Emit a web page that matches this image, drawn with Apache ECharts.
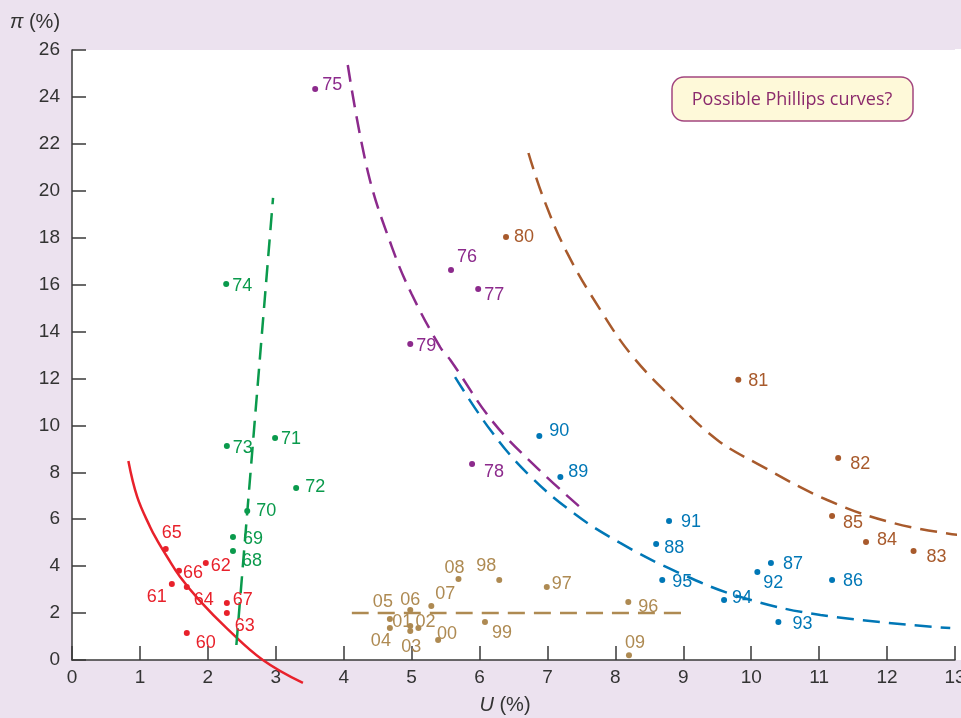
<!DOCTYPE html>
<html>
<head>
<meta charset="utf-8">
<script src="https://cdn.jsdelivr.net/npm/echarts@6/dist/echarts.min.js"></script>
<style>
html,body{margin:0;padding:0;background:#ece2ef;}
#chart{width:961px;height:718px;}
</style>
</head>
<body>
<div id="chart"></div>
<script>
// ---- data ----
const xTicks = [0,1,2,3,4,5,6,7,8,9,10,11,12,13];
const yTicks = [0,2,4,6,8,10,12,14,16,18,20,22,24,26];

const redYears = ['60','61','62','63','64','65','66','67'];
const redU     = [1.69,1.47,1.97,2.28,1.69,1.38,1.575,2.28];
const redPi    = [1.15,3.24,4.13,2.0,3.11,4.73,3.8,2.43];

const greenYears = ['68','69','70','71','72','73','74'];
const greenU     = [2.37,2.37,2.58,2.99,3.30,2.28,2.27];
const greenPi    = [4.65,5.24,6.35,9.46,7.33,9.12,16.03];

const purpleYears = ['75','76','77','78','79'];
const purpleU     = [3.58,5.58,5.98,5.89,4.98];
const purplePi    = [24.34,16.62,15.81,8.35,13.47];

const brownYears = ['80','81','82','83','84','85'];
const brownU     = [6.39,9.81,11.28,12.39,11.69,11.19];
const brownPi    = [18.03,11.94,8.61,4.65,5.03,6.14];

const blueYears = ['86','87','88','89','90','91','92','93','94','95'];
const blueU     = [11.19,10.29,8.60,7.19,6.88,8.79,10.09,10.40,9.60,8.69];
const bluePi    = [3.41,4.13,4.94,7.8,9.55,5.92,3.75,1.62,2.56,3.41];

const tanYears = ['96','97','98','99','00','01','02','03','04','05','06','07','08','09'];
const tanU     = [8.19,6.99,6.29,6.08,5.39,4.98,5.10,4.98,4.68,4.68,4.98,5.29,5.69,8.2];
const tanPi    = [2.47,3.11,3.41,1.62,0.85,1.45,1.36,1.24,1.36,1.75,2.13,2.3,3.45,0.2];

// curves
const redCurveU  = [0.83,0.96,1.15,1.25,1.40,1.59,1.89,2.28,2.81,3.40];
const redCurvePi = [8.48,6.95,5.67,5.12,4.4,3.55,2.5,1.35,0,-0.98];
const greenCurveU  = [2.42,2.96];
const greenCurvePi = [0.64,19.7];
const purpleCurveU  = [4.06,4.36,4.71,5.0,5.42,5.57,6.2,6.85,7.53];
const purpleCurvePi = [25.36,20.76,17.6,15.6,13.34,12.79,10.14,8.18,6.39];
const blueCurveU  = [5.64,6.16,6.70,7.38,8.07,8.91,9.84,11.02,12.93];
const blueCurvePi = [12.06,9.8,7.97,6.27,4.99,3.75,2.69,1.92,1.36];
const brownCurveU  = [6.72,6.94,7.29,7.78,8.26,8.91,9.50,10.1,11.12,12.09,13.04];
const brownCurvePi = [21.61,19.69,17.35,14.92,12.92,10.95,9.38,8.35,6.82,5.84,5.33];
const tanCurveU  = [4.12,9.03];
const tanCurvePi = [2.0,2.0];

// ---- label placement (pixels, relative to dot) ----
const labelOffsets = {
  '60':[19,10],'61':[-15,13],'62':[15,3],'63':[18,13],'64':[17,13],'65':[6,-16],'66':[14,2],'67':[16,-3],
  '68':[19,10],'69':[20,2],'70':[19,0],'71':[16,1],'72':[19,-1],'73':[16,2],'74':[16,2],
  '75':[17,-4],'76':[16,-13],'77':[16,6],'78':[22,8],'79':[16,2],
  '80':[18,0],'81':[20,1],'82':[22,6],'83':[23,6],'84':[21,-2],'85':[21,7],
  '86':[21,1],'87':[22,1],'88':[18,4],'89':[18,-5],'90':[20,-5],'91':[22,1],'92':[16,11],'93':[24,2],'94':[18,-2],'95':[20,2],
  '96':[20,5],'97':[15,-3],'98':[-13,-14],'99':[17,11],'00':[9,-6],'01':[-8,-4],'02':[7,-6],'03':[1,16],'04':[-9,13],
  '05':[-7,-17],'06':[0,-10],'07':[14,-12],'08':[-4,-11],'09':[6,-12]
};

const FONT = "'Liberation Sans', Arial, sans-serif";
const C = {
  red:'#e8212b', green:'#0a9a4c', purple:'#8c2a8c', brown:'#a85a2c', blue:'#0077b6', tan:'#ae8a52'
};

function pts(years, us, pis){
  return years.map((y,i)=>({
    value:[us[i], pis[i], y],
    label:{offset: labelOffsets[y] || [16,0]}
  }));
}
function curve(us, pis){ return us.map((u,i)=>[u, pis[i]]); }

function scatter(name, color, data){
  return {
    name, type:'scatter', data, symbolSize:6, z:5,
    itemStyle:{color, opacity:1},
    label:{show:true, position:'inside', formatter:p=>p.value[2],
      color, opacity:1, fontSize:18, fontFamily:FONT, align:'center', verticalAlign:'middle'},
    emphasis:{disabled:true}
  };
}
function line(name, color, data, dashed){
  return {
    name, type:'line', data, showSymbol:false, smooth:0.4, clip:false, z:3,
    lineStyle:{color, width:2.5, type: dashed ? [17,9] : 'solid'},
    silent:true
  };
}

const chart = echarts.init(document.getElementById('chart'), null, {renderer:'canvas'});
chart.setOption({
  animation:false,
  backgroundColor:'#ece2ef',
  textStyle:{fontFamily:FONT},
  grid:{left:72, right:6, top:50, bottom:58, show:true, backgroundColor:'#ffffff', borderWidth:0,
        containLabel:false, outerBoundsMode:'none'},
  graphic:[
    {type:'rect', z:-1, shape:{x:955, y:49, width:6, height:611}, style:{fill:'#ffffff'}},
    {type:'rect', shape:{x:672, y:77, width:241, height:44, r:12}, z:100,
      style:{fill:'#fef9d9', stroke:'#a2457f', lineWidth:1.5}},
    {type:'text', x:792, y:100, z:101,
      style:{text:'Possible Phillips curves?', fill:'#8b2a6c', font:"18px 'Open Sans', sans-serif", textAlign:'center', textVerticalAlign:'middle'}},
    {type:'text', x:10, y:22, z:101,
      style:{rich:{a:{fontStyle:'italic', fontSize:20, fill:'#333', fontFamily:FONT}, b:{fontSize:20, fill:'#333', fontFamily:FONT}},
        text:'{a|π} {b|(%)}', textVerticalAlign:'middle', fill:'#333', font:"20px "+FONT}},
    {type:'text', x:505, y:705, z:101,
      style:{rich:{a:{fontStyle:'italic', fontSize:20, fill:'#333', fontFamily:FONT}, b:{fontSize:20, fill:'#333', fontFamily:FONT}},
        text:'{a|U} {b|(%)}', textAlign:'center', textVerticalAlign:'middle', fill:'#333', font:"20px "+FONT}}
  ],
  xAxis:{
    type:'value', min:xTicks[0], max:xTicks[xTicks.length-1], interval:1,
    axisLine:{show:true, onZero:false, lineStyle:{color:'#3a3a3a', width:1.5}},
    axisTick:{show:true, inside:true, length:14, lineStyle:{color:'#3a3a3a', width:1.5}},
    axisLabel:{color:'#333', fontSize:19, margin:8, fontFamily:FONT},
    splitLine:{show:false}
  },
  yAxis:{
    type:'value', min:yTicks[0], max:yTicks[yTicks.length-1], interval:2,
    axisLine:{show:true, onZero:false, lineStyle:{color:'#3a3a3a', width:1.5}},
    axisTick:{show:true, inside:true, length:14, lineStyle:{color:'#3a3a3a', width:1.5}},
    axisLabel:{color:'#333', fontSize:19, margin:12, fontFamily:FONT},
    splitLine:{show:false}
  },
  series:[
    line('redCurve', C.red, curve(redCurveU, redCurvePi), false),
    line('greenCurve', C.green, curve(greenCurveU, greenCurvePi), true),
    line('purpleCurve', C.purple, curve(purpleCurveU, purpleCurvePi), true),
    line('blueCurve', C.blue, curve(blueCurveU, blueCurvePi), true),
    line('brownCurve', C.brown, curve(brownCurveU, brownCurvePi), true),
    line('tanCurve', C.tan, curve(tanCurveU, tanCurvePi), true),
    scatter('1960s', C.red, pts(redYears, redU, redPi)),
    scatter('1968-74', C.green, pts(greenYears, greenU, greenPi)),
    scatter('1975-79', C.purple, pts(purpleYears, purpleU, purplePi)),
    scatter('1980-85', C.brown, pts(brownYears, brownU, brownPi)),
    scatter('1986-95', C.blue, pts(blueYears, blueU, bluePi)),
    scatter('1996-2009', C.tan, pts(tanYears, tanU, tanPi))
  ]
});
</script>
</body>
</html>
